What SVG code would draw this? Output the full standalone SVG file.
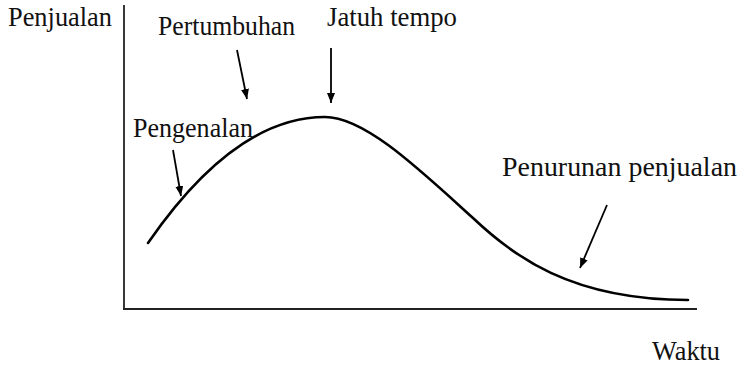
<svg xmlns="http://www.w3.org/2000/svg" width="740" height="367" viewBox="0 0 740 367">
<style>
.t{font-family:'Liberation Serif','Times New Roman',Times,serif;font-size:27px;fill:#111}
.axis{stroke:#222;stroke-width:1.8;fill:none}
.curve{stroke:#000;stroke-width:2.6;fill:none;stroke-linecap:round}
.arr{stroke:#000;stroke-width:1.8;fill:none;marker-end:url(#ah)}
</style>
<defs>
<marker id="ah" viewBox="0 0 10 8" refX="10" refY="4" markerWidth="10" markerHeight="8" markerUnits="userSpaceOnUse" orient="auto">
<path d="M0,0 L10,4 L0,8 Z" fill="#000"/>
</marker>
</defs>
<rect width="740" height="367" fill="#fff"/>
<g id="axes">
<line class="axis" x1="124" y1="5" x2="124" y2="310"/>
<line class="axis" x1="123" y1="309" x2="697" y2="309"/>
</g>
<g id="curve">
<path class="curve" d="M148,243 C195,175 255,117 325,117 C365,117 420,170 473,218 C512,255 570,300 688,300"/>
</g>
<g id="connectors">
<line class="arr" x1="237" y1="50" x2="247" y2="99"/>
<line class="arr" x1="331" y1="48" x2="331" y2="103"/>
<line class="arr" x1="173" y1="150" x2="181" y2="196"/>
<line class="arr" x1="607" y1="205" x2="580" y2="268"/>
</g>
<g id="label-penjualan"><text class="t" x="8" y="26" textLength="104" lengthAdjust="spacingAndGlyphs">Penjualan</text></g>
<g id="label-pertumbuhan"><text class="t" x="158" y="35" textLength="137" lengthAdjust="spacingAndGlyphs">Pertumbuhan</text></g>
<g id="label-jatuh-tempo"><text class="t" x="327" y="26" textLength="130" lengthAdjust="spacingAndGlyphs">Jatuh tempo</text></g>
<g id="label-pengenalan"><text class="t" x="133" y="137" textLength="120" lengthAdjust="spacingAndGlyphs">Pengenalan</text></g>
<g id="label-penurunan"><text class="t" x="502" y="176" textLength="235" lengthAdjust="spacingAndGlyphs">Penurunan penjualan</text></g>
<g id="label-waktu"><text class="t" x="652" y="360" textLength="68" lengthAdjust="spacingAndGlyphs">Waktu</text></g>
</svg>
